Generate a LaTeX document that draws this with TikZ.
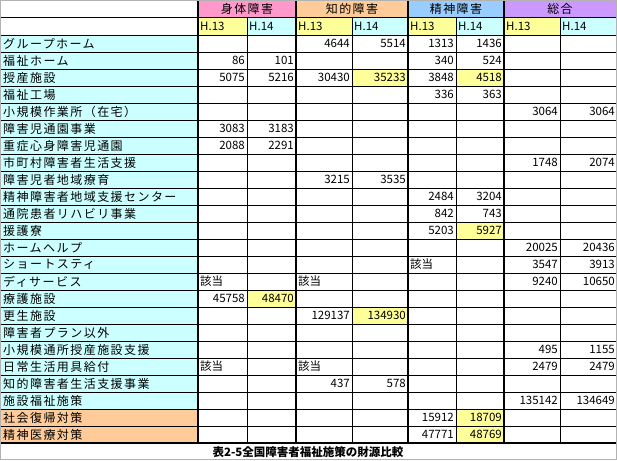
\documentclass[tikz,border=0pt]{standalone}
\usepackage{fontspec}
\setmainfont{Noto Sans CJK JP}
\definecolor{pinkh}{HTML}{FF99CC}
\definecolor{orah}{HTML}{FFCC99}
\definecolor{blueh}{HTML}{99CCFF}
\definecolor{lavh}{HTML}{CC99FF}
\definecolor{yel}{HTML}{FFFF99}
\definecolor{cyn}{HTML}{CCFFFF}
\def\colx{{0,198,247,296,352,408,456,504,560,617}}
\newcommand{\fillc}[3]{%
  \pgfmathsetmacro\xa{\colx[#2]}\pgfmathsetmacro\xb{\colx[#2+1]}
  \pgfmathsetmacro\ya{35+(#1-1)*17}
  \fill[#3] (\xa,\ya) rectangle (\xb,\ya+17);}
\newcommand{\rc}[3]{%
  \pgfmathsetmacro\xb{\colx[#2+1]}\pgfmathsetmacro\ya{35+(#1-1)*17+8.5}
  \node[cell,anchor=east] (v#1-#2) at (\xb-1,\ya) {#3};}
\newcommand{\lc}[3]{%
  \pgfmathsetmacro\xa{\colx[#2]}\pgfmathsetmacro\ya{35+(#1-1)*17+8.5}
  \node[cell,anchor=west] (v#1-#2) at (\xa+1,\ya) {#3};}
\tikzset{cell/.style={inner sep=1pt,font=\fontsize{11.5}{12}\selectfont},
lab/.style={inner sep=1pt,font=\fontsize{12}{12}\selectfont\addfontfeature{LetterSpace=12}},
thin line/.style={line width=0.6pt},thick line/.style={line width=1.4pt}}
\begin{document}
\begin{tikzpicture}[x=1pt,y=-1pt]
\useasboundingbox (0,0) rectangle (617,460);
\fill[white] (0,0) rectangle (617,460);
\fill[pinkh] (198,0) rectangle (296,17);
\fill[orah] (296,0) rectangle (408,17);
\fill[blueh] (408,0) rectangle (504,17);
\fill[lavh] (504,0) rectangle (617,17);
\foreach \a/\b in {198/247,296/352,408/456,504/560} \fill[yel] (\a,17) rectangle (\b,35);
\foreach \a/\b in {247/296,352/408,456/504,560/617} \fill[cyn] (\a,17) rectangle (\b,35);
\foreach \r in {1,...,22} {\fillc{\r}{0}{cyn}}
\fillc{23}{0}{orah}\fillc{24}{0}{orah}
\fillc{3}{4}{yel}\fillc{3}{6}{yel}\fillc{12}{6}{yel}\fillc{16}{2}{yel}
\fillc{17}{4}{yel}\fillc{23}{6}{yel}\fillc{24}{6}{yel}
\foreach \r in {0,...,24} \draw[thin line] (0,35+\r*17) -- (617,35+\r*17);
\draw[thin line] (0,17) -- (617,17);
\foreach \x in {247,352,456,560} \draw[thin line] (\x,17) -- (\x,443);
\foreach \x in {198,296,408,504} \draw[thick line] (\x,0) -- (\x,443);
\draw[thick line] (0,0) rectangle (617,443);
\node[lab] (g1) at (247,8.5) {身体障害};
\node[lab] (g2) at (352,8.5) {知的障害};
\node[lab] (g3) at (456,8.5) {精神障害};
\node[lab] (g4) at (560,8.5) {総合};
\foreach \c/\t in {1/H.13,2/H.14,3/H.13,4/H.14,5/H.13,6/H.14,7/H.13,8/H.14}{
  \pgfmathsetmacro\xa{\colx[\c]}
  \node[cell,anchor=west] (h\c) at (\xa+1,26) {\t};}
\foreach \r/\t in {1/グループホーム,2/福祉ホーム,3/授産施設,4/福祉工場,5/小規模作業所（在宅）,
6/障害児通園事業,7/重症心身障害児通園,8/市町村障害者生活支援,9/障害児者地域療育,
10/精神障害者地域支援センター,11/通院患者リハビリ事業,12/援護寮,13/ホームヘルプ,
14/ショートスティ,15/ディサービス,16/療護施設,17/更生施設,18/障害者プラン以外,
19/小規模通所授産施設支援,20/日常生活用具給付,21/知的障害者生活支援事業,22/施設福祉施策,
23/社会復帰対策,24/精神医療対策}{
  \node[lab,anchor=west] (l\r) at (2,35+\r*17-8.5) {\t};}
\rc{1}{3}{4644}\rc{1}{4}{5514}\rc{1}{5}{1313}\rc{1}{6}{1436}
\rc{2}{1}{86}\rc{2}{2}{101}\rc{2}{5}{340}\rc{2}{6}{524}
\rc{3}{1}{5075}\rc{3}{2}{5216}\rc{3}{3}{30430}\rc{3}{4}{35233}\rc{3}{5}{3848}\rc{3}{6}{4518}
\rc{4}{5}{336}\rc{4}{6}{363}
\rc{5}{7}{3064}\rc{5}{8}{3064}
\rc{6}{1}{3083}\rc{6}{2}{3183}
\rc{7}{1}{2088}\rc{7}{2}{2291}
\rc{8}{7}{1748}\rc{8}{8}{2074}
\rc{9}{3}{3215}\rc{9}{4}{3535}
\rc{10}{5}{2484}\rc{10}{6}{3204}
\rc{11}{5}{842}\rc{11}{6}{743}
\rc{12}{5}{5203}\rc{12}{6}{5927}
\rc{13}{7}{20025}\rc{13}{8}{20436}
\lc{14}{5}{該当}\rc{14}{7}{3547}\rc{14}{8}{3913}
\lc{15}{1}{該当}\lc{15}{3}{該当}\rc{15}{7}{9240}\rc{15}{8}{10650}
\rc{16}{1}{45758}\rc{16}{2}{48470}
\rc{17}{3}{129137}\rc{17}{4}{134930}
\rc{19}{7}{495}\rc{19}{8}{1155}
\lc{20}{1}{該当}\lc{20}{3}{該当}\rc{20}{7}{2479}\rc{20}{8}{2479}
\rc{21}{3}{437}\rc{21}{4}{578}
\rc{22}{7}{135142}\rc{22}{8}{134649}
\rc{23}{5}{15912}\rc{23}{6}{18709}
\rc{24}{5}{47771}\rc{24}{6}{48769}
\node[cell,font=\fontsize{11.5}{12}\selectfont\bfseries] (cap) at (308,452) {表2-5全国障害者福祉施策の財源比較};
\draw[gray!60] (0.5,0.5) rectangle (616.5,459.5);
\end{tikzpicture}
\end{document}
